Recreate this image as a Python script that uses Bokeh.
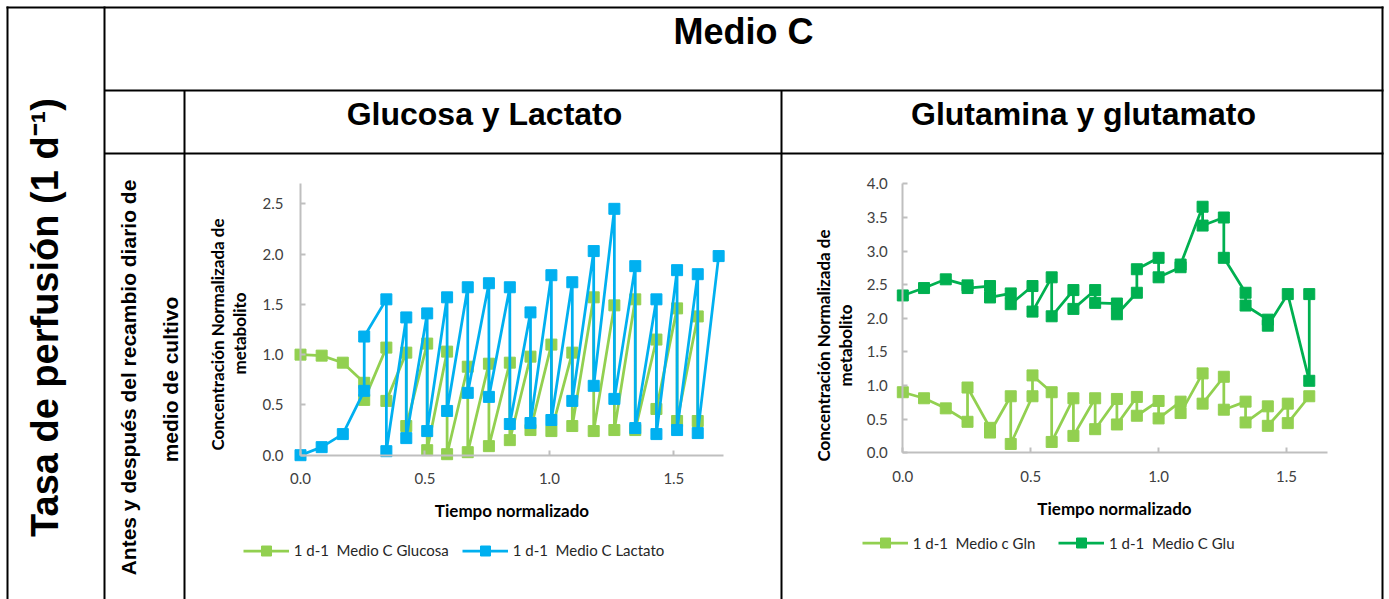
import math
from bokeh.plotting import figure
from bokeh.models import (Range1d, Label, Legend, LegendItem, LinearAxis,
                          FixedTicker, PrintfTickFormatter)
from bokeh.embed import file_html
from bokeh.resources import INLINE
from bokeh.core.properties import value

# ---------------- data ----------------
# Glucose / lactate (normalised concentration vs normalised time).
# Repeated times hold the values before and after the daily medium exchange.
glc_time = [0.000, 0.085, 0.170, 0.256, 0.256, 0.345, 0.345, 0.425, 0.425, 0.509, 0.509,
            0.589, 0.589, 0.672, 0.672, 0.757, 0.757, 0.841, 0.841, 0.924, 0.924,
            1.008, 1.008, 1.092, 1.092, 1.178, 1.178, 1.261, 1.261, 1.345, 1.345,
            1.430, 1.430, 1.513, 1.513, 1.596, 1.596]
glc_conc = [1.00, 0.99, 0.92, 0.72, 0.55, 1.07, 0.54, 1.02, 0.29, 1.11, 0.05,
            1.03, 0.01, 0.88, 0.03, 0.91, 0.09, 0.92, 0.15, 0.98, 0.25,
            1.10, 0.24, 1.02, 0.29, 1.57, 0.24, 1.49, 0.25, 1.55, 0.25,
            1.15, 0.46, 1.46, 0.34, 1.38, 0.34]
lac_time = [0.000, 0.085, 0.170, 0.256, 0.256, 0.345, 0.345, 0.425, 0.425, 0.509, 0.509,
            0.589, 0.589, 0.672, 0.672, 0.757, 0.757, 0.841, 0.841, 0.924, 0.924,
            1.008, 1.008, 1.092, 1.092, 1.178, 1.178, 1.261, 1.261, 1.345, 1.345,
            1.430, 1.430, 1.513, 1.513, 1.596, 1.596, 1.680]
lac_conc = [0.00, 0.08, 0.21, 0.64, 1.18, 1.55, 0.04, 1.37, 0.17, 1.41, 0.24,
            1.57, 0.44, 1.67, 0.62, 1.71, 0.58, 1.67, 0.31, 1.42, 0.32,
            1.79, 0.35, 1.72, 0.54, 2.03, 0.69, 2.45, 0.56, 1.88, 0.27,
            1.55, 0.21, 1.84, 0.25, 1.80, 0.22, 1.98]

# Glutamine / glutamate
gln_time = [0.000, 0.083, 0.168, 0.253, 0.253, 0.341, 0.341, 0.422, 0.422, 0.507, 0.507,
            0.582, 0.582, 0.667, 0.667, 0.752, 0.752, 0.837, 0.837, 0.915, 0.915,
            1.000, 1.000, 1.086, 1.086, 1.172, 1.172, 1.255, 1.255, 1.340, 1.340,
            1.427, 1.427, 1.505, 1.505, 1.589]
gln_conc = [0.90, 0.81, 0.66, 0.46, 0.97, 0.37, 0.30, 0.84, 0.13, 0.84, 1.15,
            0.90, 0.16, 0.81, 0.25, 0.81, 0.35, 0.80, 0.42, 0.83, 0.55,
            0.77, 0.51, 0.76, 0.59, 1.18, 0.73, 1.13, 0.64, 0.76, 0.45,
            0.69, 0.40, 0.73, 0.44, 0.84]
glu_time = [0.000, 0.083, 0.168, 0.253, 0.253, 0.341, 0.341, 0.422, 0.422, 0.507, 0.507,
            0.582, 0.582, 0.667, 0.667, 0.752, 0.752, 0.837, 0.837, 0.915, 0.915,
            1.000, 1.000, 1.086, 1.086, 1.172, 1.172, 1.255, 1.255, 1.340, 1.340,
            1.427, 1.427, 1.505, 1.589, 1.589]
glu_conc = [2.34, 2.45, 2.58, 2.49, 2.45, 2.48, 2.31, 2.37, 2.21, 2.48, 2.10,
            2.61, 2.03, 2.42, 2.14, 2.42, 2.23, 2.22, 2.06, 2.38, 2.73,
            2.90, 2.61, 2.76, 2.80, 3.66, 3.38, 3.50, 2.90, 2.38, 2.19,
            1.98, 1.89, 2.36, 1.07, 2.36]

x_ticks_gl = [0.0, 0.5, 1.0, 1.5]
y_ticks_gl = [0.0, 0.5, 1.0, 1.5, 2.0, 2.5]
x_ticks_gg = [0.0, 0.5, 1.0, 1.5]
y_ticks_gg = [0.0, 0.5, 1.0, 1.5, 2.0, 2.5, 3.0, 3.5, 4.0]

series_names = ["1 d-1  Medio C Glucosa", "1 d-1  Medio C Lactato",
                "1 d-1  Medio c Gln", "1 d-1  Medio C Glu"]

GREEN_LIGHT = "#92D050"
BLUE = "#00B0F0"
GREEN_DARK = "#00B050"

HEAD_FONT = "Liberation Sans"
CHART_FONT = "Lato"

W, H = 1389, 599

# One canvas for the whole table; the default ranges are page pixels (y down).
p = figure(width=W, height=H, x_range=Range1d(0, W), y_range=Range1d(H, 0),
           x_axis_location=None, y_axis_location=None, toolbar_location=None,
           output_backend="svg", min_border=0)
p.grid.visible = False
p.outline_line_color = None

# ---------------- table rules ----------------
table_rules = [
    (7, 6, 7, H),            # outer left
    (6, 7, 1383, 7),         # outer top
    (104, 6, 104, H),        # after the perfusion-rate column
    (104, 90, 1383, 90),     # under "Medio C"
    (184, 90, 184, H),       # after the row-caption column
    (104, 153, 1383, 153),   # under the chart headers
    (781, 90, 781, H),       # between the two charts
    (1382, 6, 1382, H),      # outer right
]
x0, y0, x1, y1 = (list(v) for v in zip(*table_rules))
p.segment(x0=x0, y0=y0, x1=x1, y1=y1, line_color="black", line_width=2)


def label(x, y, s, size, angle=0.0, font=HEAD_FONT, style="bold", color="black"):
    p.add_layout(Label(x=x, y=y, text=s, angle=angle, text_align="center",
                       text_baseline="middle", text_font=font,
                       text_font_size=f"{size}px", text_font_style=style,
                       text_color=color))


label(44, 317, "Tasa de perfusión (1 d⁻¹)", 38, angle=math.pi / 2)
label(743, 31, "Medio C", 36)
label(484, 113, "Glucosa y Lactato", 32)
label(1083, 113, "Glutamina y glutamato", 32)
label(128, 377, "Antes y después del recambio diario de", 21, angle=math.pi / 2)
label(170, 379, "medio de cultivo", 21, angle=math.pi / 2)


# ---------------- charts ----------------
# Each chart gets its own named ranges, placed so that its data origin lands
# at `origin` (page px) with `scale` px per unit.
chart_geom = {
    "gl": dict(origin=(300.0, 454.7), scale=(248.9, 100.56), x_max=1.70, y_max=2.70,
               x_ticks=x_ticks_gl, y_ticks=y_ticks_gl, x_standoff=18, y_standoff=17),
    "gg": dict(origin=(902.3, 452.2), scale=(255.8, 67.2), x_max=1.66, y_max=4.0,
               x_ticks=x_ticks_gg, y_ticks=y_ticks_gg, x_standoff=18, y_standoff=15),
}

p.extra_x_ranges = {k: Range1d((0 - g["origin"][0]) / g["scale"][0],
                               (W - g["origin"][0]) / g["scale"][0])
                    for k, g in chart_geom.items()}
p.extra_y_ranges = {k: Range1d((g["origin"][1] - H) / g["scale"][1],
                               g["origin"][1] / g["scale"][1])
                    for k, g in chart_geom.items()}


def style_axis(ax, standoff):
    ax.formatter = PrintfTickFormatter(format="%.1f")
    ax.axis_line_color = "#bfbfbf"
    ax.axis_line_width = 2
    ax.major_tick_line_color = "#bfbfbf"
    ax.major_tick_line_width = 2
    ax.major_tick_in = 5
    ax.major_tick_out = 0
    ax.minor_tick_line_color = None
    ax.major_label_text_font = CHART_FONT
    ax.major_label_text_font_size = "15px"
    ax.major_label_text_color = "#404040"
    ax.major_label_standoff = standoff


for name, g in chart_geom.items():
    xa = LinearAxis(x_range_name=name, y_range_name=name, fixed_location=0,
                    bounds=(0, g["x_max"]), ticker=FixedTicker(ticks=g["x_ticks"]))
    style_axis(xa, g["x_standoff"])
    p.add_layout(xa, "below")
    ya = LinearAxis(x_range_name=name, y_range_name=name, fixed_location=0,
                    bounds=(0, g["y_max"]), ticker=FixedTicker(ticks=g["y_ticks"]))
    style_axis(ya, g["y_standoff"])
    p.add_layout(ya, "left")


def series(chart, xs, ys, color, name, left_px, mid_py):
    r_line = p.line(xs, ys, line_color=color, line_width=2.75,
                    x_range_name=chart, y_range_name=chart)
    r_pts = p.scatter(xs, ys, marker="square", size=11, fill_color=color, line_color=color,
                      x_range_name=chart, y_range_name=chart)
    gh = 25
    leg = Legend(items=[LegendItem(label=value(name), renderers=[r_line, r_pts])],
                 location=(left_px, H - (mid_py + gh / 2)),
                 orientation="horizontal", glyph_width=46, glyph_height=gh,
                 label_height=gh, label_standoff=5, padding=0, margin=0, spacing=0,
                 border_line_color=None, background_fill_alpha=0,
                 label_text_font=CHART_FONT, label_text_font_size="15px",
                 label_text_color="#262626")
    p.add_layout(leg)


series("gl", glc_time, glc_conc, GREEN_LIGHT, series_names[0], 242.7, 550)
series("gl", lac_time, lac_conc, BLUE, series_names[1], 461.7, 550)
series("gg", gln_time, gln_conc, GREEN_LIGHT, series_names[2], 861.7, 542.7)
series("gg", glu_time, glu_conc, GREEN_DARK, series_names[3], 1058.0, 542.7)

# axis titles
label(511.5, 510, "Tiempo normalizado", 17, font=CHART_FONT)
label(216.7, 334, "Concentración Normalizada de", 17, angle=math.pi / 2, font=CHART_FONT)
label(239.3, 333, "metabolito", 17, angle=math.pi / 2, font=CHART_FONT)
label(1114, 508, "Tiempo normalizado", 17, font=CHART_FONT)
label(823.3, 345, "Concentración Normalizada de", 17, angle=math.pi / 2, font=CHART_FONT)
label(845, 345, "metabolito", 17, angle=math.pi / 2, font=CHART_FONT)

open("out.html", "w").write(file_html(p, INLINE))
